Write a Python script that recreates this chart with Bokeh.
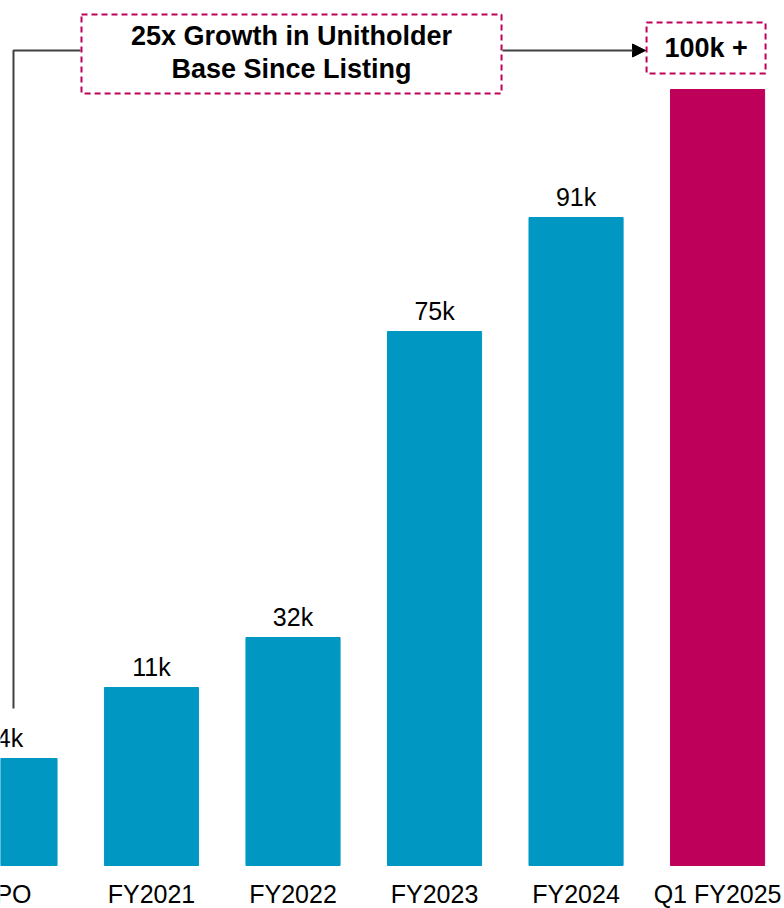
from bokeh.plotting import figure
from bokeh.models import Range1d, ColumnDataSource, Arrow, NormalHead
from bokeh.core.properties import value
from bokeh.embed import file_html
from bokeh.resources import INLINE

# ---- data ----
categories = ["IPO", "FY2021", "FY2022", "FY2023", "FY2024", "Q1 FY2025"]
value_labels = ["4k", "11k", "32k", "75k", "91k", ""]
# drawn bar heights (chart is not to scale)
bar_heights = [10.7, 17.8, 22.8, 53.4, 64.8, 77.6]
bar_colors = ["#0098C3", "#0098C3", "#0098C3", "#0098C3", "#0098C3", "#BE005A"]
headline = ["25x Growth in Unitholder", "Base Since Listing"]
callout = "100k +"

W, H = 784, 908
FONT = "Liberation Sans"
TXT_SHIFT = 11  # px correction for svg text baseline placement

p = figure(width=W, height=H, output_backend="svg", toolbar_location=None,
           x_range=Range1d(-0.067, 5.473), y_range=Range1d(-4.3, 86.5),
           x_axis_location=None, y_axis_location=None, min_border=0)
p.outline_line_color = None
p.grid.visible = False
p.background_fill_color = "white"
p.border_fill_color = "white"

# pixel -> data helpers for annotation layout
def px_x(px):
    return (px - 9.5) / 141.5

def px_y(py):
    return (865 - py) / 10.0

def tx_y(py):
    return px_y(py - TXT_SHIFT)

xs = list(range(len(categories)))
src = ColumnDataSource(dict(x=xs, top=bar_heights, color=bar_colors,
                            cat=categories, lab=value_labels,
                            laby=[h + 1.0 + TXT_SHIFT / 10.0 for h in bar_heights]))

p.vbar(x="x", top="top", bottom=0, width=0.665, color="color", source=src)

p.text(x="x", y="laby", text="lab", source=src, text_align="center",
       text_baseline="alphabetic", text_font=value(FONT), text_font_size="25px",
       text_color="#000000")
p.text(x="x", y=tx_y(904), text="cat", source=src, text_align="center",
       text_baseline="alphabetic", text_font=value(FONT), text_font_size="25px",
       text_color="#000000")

# connector lines
line_col = "#404040"
p.line(x=[px_x(13), px_x(13), px_x(80)], y=[px_y(708), px_y(50), px_y(50)],
       line_color=line_col, line_width=2)
p.add_layout(Arrow(x_start=px_x(502), y_start=px_y(50), x_end=px_x(645), y_end=px_y(50),
                   line_color=line_col, line_width=2,
                   end=NormalHead(size=13, fill_color="#000000", line_color="#000000")))

# dashed boxes
mag = "#BE005A"
p.quad(left=[px_x(81), px_x(646)], right=[px_x(501), px_x(765)],
       top=[px_y(14), px_y(22)], bottom=[px_y(93), px_y(73)],
       fill_color=None, line_color=mag, line_width=2, line_dash="6 4")

p.text(x=[px_x(291), px_x(291)], y=[tx_y(46), tx_y(79)], text=headline,
       text_align="center", text_baseline="alphabetic", text_font=value(FONT),
       text_font_size="27px", text_font_style="bold", text_color="#000000")
p.text(x=[px_x(705.5)], y=[tx_y(58)], text=[callout],
       text_align="center", text_baseline="alphabetic", text_font=value(FONT),
       text_font_size="27px", text_font_style="bold", text_color="#000000")

open("out.html", "w").write(file_html(p, INLINE))
